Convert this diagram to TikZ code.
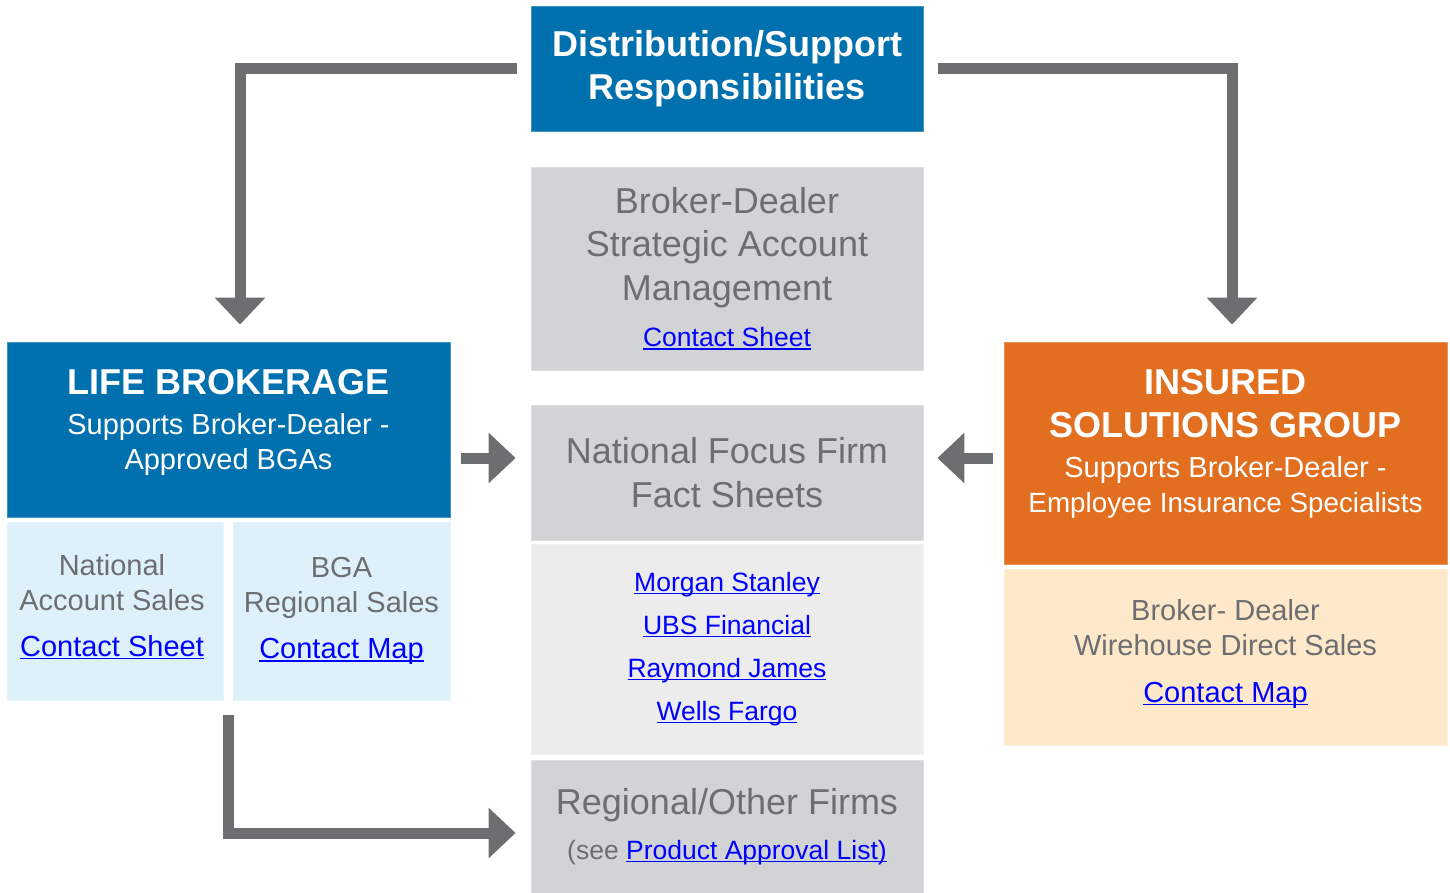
\documentclass[tikz,border=0pt]{standalone}
\usepackage{fontspec}
\setmainfont{Liberation Sans}
\usepackage{tikz}
\usetikzlibrary{arrows.meta}
\usetikzlibrary{calc}

\definecolor{lbblue}{RGB}{0,112,174}
\definecolor{isgorange}{RGB}{226,111,31}
\definecolor{boxgray}{RGB}{210,211,213}
\definecolor{firmgray}{RGB}{236,236,236}
\definecolor{paleblue}{RGB}{222,241,251}
\definecolor{paleorange}{RGB}{253,232,201}
\definecolor{txtgray}{RGB}{109,110,113}
\definecolor{arrgray}{RGB}{109,110,112}
\definecolor{lnkblue}{RGB}{0,0,255}

\newcommand{\bigsz}{\fontsize{36}{43.5}\selectfont}
\newcommand{\midsz}{\fontsize{29}{35}\selectfont}
\newcommand{\smlsz}{\fontsize{26.5}{43}\selectfont}
\newcommand{\lnk}[1]{{\color{lnkblue}\setbox0\hbox{#1}\rlap{\rule[-0.1em]{\wd0}{0.05em}}\box0}}

\tikzset{
  panel/.style={rectangle, inner sep=0pt, align=center, fill=#1, draw=#1!75!white, line width=0.8pt},
  txt/.style={inner sep=0pt, align=center},
  bigarrow/.style={draw=arrgray, line width=11pt, -{Triangle[width=49pt,length=27pt]}}
}

\begin{document}
\begin{tikzpicture}[x=1pt, y=-1pt]
      \useasboundingbox (0,0) rectangle (1450,893);

      % middle column
      \node[panel=lbblue, minimum width=392pt, minimum height=125pt, text=white, font=\bigsz\bfseries] (title) at (727,68.5)
        {Distribution/Support\\Responsibilities};
      \node[panel=boxgray, minimum width=392pt, minimum height=203pt, text=txtgray, font=\bigsz] (bdsam) at (727,268.5)
        {Broker-Dealer\\Strategic Account\\Management\\[3pt]{\smlsz\lnk{Contact Sheet}}};
      \node[panel=boxgray, minimum width=392pt, minimum height=135pt, text=txtgray, font=\bigsz] (nff) at (727,472.5)
        {National Focus Firm\\Fact Sheets};
      \node[panel=firmgray, minimum width=392pt, minimum height=210pt, font=\smlsz] (firms) at (727,649)
        {\lnk{Morgan Stanley}\\\lnk{UBS Financial}\\\lnk{Raymond James}\\\lnk{Wells Fargo}};
      \node[panel=boxgray, minimum width=392pt, minimum height=133pt, text=txtgray, font=\bigsz] (reg) at (727,826.5)
        {Regional/Other Firms\\[2pt]{\smlsz (see \lnk{Product Approval List)}}};

      % life brokerage
      \node[panel=lbblue, minimum width=443pt, minimum height=175pt] (life) at (228.5,429.5) {};
      \node[txt, text=white, font=\midsz] (life-t) at ([yshift=7pt]life.center)
        {{\bigsz\bfseries LIFE BROKERAGE}\\[5pt]Supports Broker-Dealer -\\Approved BGAs};
      \node[panel=paleblue, minimum width=216pt, minimum height=178pt] (natl) at (115,611) {};
      \node[txt, text=txtgray, font=\midsz] (natl-t) at ([xshift=-3pt,yshift=4pt]natl.center)
        {National\\Account Sales\\[11pt]\lnk{Contact Sheet}};
      \node[panel=paleblue, minimum width=217pt, minimum height=178pt, text=txtgray, font=\midsz] (bga) at (341.5,611)
        {BGA\\Regional Sales\\[11pt]\lnk{Contact Map}};

      % insured solutions group
      \node[panel=isgorange, minimum width=443pt, minimum height=222pt] (isg) at (1225.5,453) {};
      \node[txt, text=white, font=\midsz] (isg-t) at ([yshift=9pt]isg.center)
        {{\bigsz\bfseries INSURED}\\[8pt]{\bigsz\bfseries SOLUTIONS GROUP}\\[5pt]Supports Broker-Dealer -\\{\fontsize{27.8}{35}\selectfont Employee Insurance Specialists}};
      \node[panel=paleorange, minimum width=443pt, minimum height=176pt] (wire) at (1225.5,657) {};
      \node[txt, text=txtgray, font=\midsz] (wire-t) at ([yshift=3pt]wire.center)
        {Broker- Dealer\\Wirehouse Direct Sales\\[12pt]\lnk{Contact Map}};

      % arrows
      \coordinate (lbot) at (life.south |- natl.south);
      \coordinate (nffw) at ([yshift=14.5pt]nff.west);
      \coordinate (nffe) at ([yshift=14.5pt]nff.east);
      \draw[bigarrow] ([xshift=-14pt]title.west) -| ([xshift=11.5pt,yshift=17pt]life.north);
      \draw[bigarrow] ([xshift=15pt]title.east) -| ([xshift=6.5pt,yshift=17pt]isg.north);
      \draw[bigarrow] ([xshift=-70pt]nffw) -- ([xshift=-15pt]nffw);
      \draw[bigarrow] ([xshift=70pt]nffe) -- ([xshift=14pt]nffe);
      \draw[bigarrow] ([yshift=-15pt]lbot) |- ([xshift=-15pt,yshift=-6.5pt]reg.west);
\end{tikzpicture}
\end{document}
